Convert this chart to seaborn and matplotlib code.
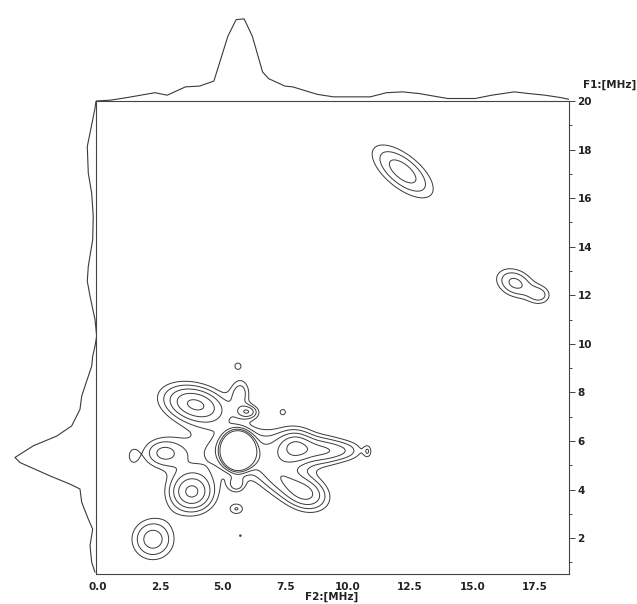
import numpy as np
import pandas as pd
import seaborn as sns
import matplotlib.pyplot as plt

sns.set_theme(style="white")
plt.rcParams['font.family'] = ['DejaVu Sans']

# peaks of the 2D map (MHz)
peak_x = [5.6, 5.9, 3.9, 5.6, 5.7, 6.0, 7.4, 1.4, 2.6, 7.9, 9.0, 10.0, 10.8,
          3.75, 5.55, 5.55, 5.7, 7.3, 8.4, 2.2, 12.2, 16.7, 17.7]
peak_y = [5.6, 5.6, 7.5, 9.1, 8.0, 7.2, 7.2, 5.37, 5.5, 5.75, 5.6, 5.6, 5.57,
          3.9, 4.2, 3.2, 2.1, 4.4, 3.8, 1.95, 17.1, 12.5, 12.0]
peak_amp = [30, 2.2, 3.8, 1.1, 1.7, 2.2, 1.1, 1.1, 2.0, 2.6, 2.1, 1.3, 1.1,
            3.8, 1.6, 1.5, 1.05, 2.0, 2.5, 2.5, 2.5, 2.3, 1.5]
peak_sx = [0.3, 1.7, 0.95, 0.2, 0.3, 0.3, 0.15, 0.18, 0.6, 0.5, 0.6, 0.55, 0.12,
           0.65, 0.25, 0.25, 0.12, 0.8, 0.65, 0.62, 1.1, 0.6, 0.35]
peak_sy = [0.36, 0.7, 0.55, 0.2, 0.45, 0.2, 0.15, 0.28, 0.45, 0.5, 0.42, 0.32, 0.2,
           0.6, 0.25, 0.2, 0.12, 0.5, 0.5, 0.62, 0.5, 0.42, 0.3]
peak_angle = [0, 0, -15, 0, 0, 0, 0, 0, 0, 0, 0, 0, 0,
              0, 0, 0, 0, -30, -20, 0, -40, -25, 0]
levels = [1.0, 1.5, 2.1, 2.8, 3.6]

# skyline projections (fraction of the top peak)
top_f2 = [-0.08, 0.49, 1.14, 2.28, 2.77, 3.5, 4.07, 4.64, 5.2, 5.53, 5.85, 6.18, 6.59,
          6.83, 7.48, 7.8, 8.78, 9.43, 10.25, 10.9, 11.55, 12.2, 12.85, 14.0, 15.1,
          15.77, 16.67, 17.24, 17.9, 18.55, 18.86]
top_int = [0, 0.01, 0.04, 0.10, 0.07, 0.17, 0.18, 0.24, 0.78, 0.98, 0.99, 0.78, 0.35,
           0.27, 0.18, 0.17, 0.08, 0.05, 0.05, 0.05, 0.10, 0.11, 0.09, 0.03, 0.03,
           0.07, 0.11, 0.09, 0.07, 0.04, 0.02]
left_f1 = [20.0, 19.7, 18.68, 18.13, 17.03, 16.2, 15.25, 14.29, 13.19, 12.58, 11.96,
           11.0, 10.32, 9.9, 9.49, 9.08, 8.54, 7.85, 7.3, 6.62, 6.2, 5.8, 5.32, 5.11,
           4.56, 4.22, 4.02, 3.47, 2.78, 2.37, 1.69, 1.0, 0.59]
left_int = [0, 0.012, 0.072, 0.105, 0.093, 0.052, 0.033, 0.04, 0.093, 0.105, 0.072,
            0.012, -0.008, 0.012, 0.04, 0.052, 0.105, 0.172, 0.193, 0.293, 0.473,
            0.755, 0.976, 0.916, 0.554, 0.313, 0.193, 0.172, 0.093, 0.04, 0.072,
            0.052, 0.012]

xlim = (-0.08, 18.86)
ylim = (0.52, 20.0)

# build the map from the peak table
gx = np.linspace(xlim[0], xlim[1], 500)
gy = np.linspace(ylim[0], ylim[1], 500)
X, Y = np.meshgrid(gx, gy)
Z = np.zeros_like(X)
for px, py, a, sx, sy, ang in zip(peak_x, peak_y, peak_amp, peak_sx, peak_sy, peak_angle):
    t = np.deg2rad(ang)
    dx, dy = X - px, Y - py
    u = dx * np.cos(t) + dy * np.sin(t)
    v = -dx * np.sin(t) + dy * np.cos(t)
    Z += a * np.exp(-(u**2 / (2 * sx**2) + v**2 / (2 * sy**2)))

W, H = 637, 604
fig = plt.figure(figsize=(W / 100, H / 100), dpi=100)
ax = fig.add_axes([96 / W, 1 - 574 / H, 473 / W, 473 / H])
ax_top = fig.add_axes([96 / W, 1 - 101 / H, 473 / W, 87 / H], sharex=ax)
ax_left = fig.add_axes([10 / W, 1 - 574 / H, 86 / W, 473 / H], sharey=ax)

line_col = '#3a3a3a'
txt_col = '#222222'
ax.contour(X, Y, Z, levels=levels, colors=line_col, linewidths=0.7)
ax.set_xlim(*xlim)
ax.set_ylim(*ylim)
for s in ax.spines.values():
    s.set_color('#444444')
    s.set_linewidth(0.8)
ax.set_xticks([0, 2.5, 5, 7.5, 10, 12.5, 15, 17.5])
ax.set_xticklabels(['0.0', '2.5', '5.0', '7.5', '10.0', '12.5', '15.0', '17.5'])
ax.set_xticks(np.arange(0, 18.9, 0.5), minor=True)
ax.set_yticks([2, 4, 6, 8, 10, 12, 14, 16, 18, 20])
ax.set_yticks(np.arange(1, 20.5, 1), minor=True)
ax.yaxis.tick_right()
ax.tick_params(which='both', direction='out', color='#444444', width=0.7,
               labelsize=7.5, pad=2)
ax.tick_params(which='major', length=4)
ax.tick_params(which='minor', length=2)
for lab in ax.get_xticklabels() + ax.get_yticklabels():
    lab.set_fontweight('bold')
    lab.set_color(txt_col)
fig.text(332 / W, 1 - 597 / H, 'F2:[MHz]', ha='center', va='center',
         fontsize=7.5, fontweight='bold', color=txt_col)
fig.text(636 / W, 1 - 85 / H, 'F1:[MHz]', ha='right', va='center',
         fontsize=7.5, fontweight='bold', color=txt_col)

top_df = pd.DataFrame({'f2': top_f2, 'intensity': top_int})
sns.lineplot(data=top_df, x='f2', y='intensity', ax=ax_top, color=line_col,
             linewidth=0.8, estimator=None, sort=False)
ax_top.set_ylim(0, 87 / 83)
ax_top.axis('off')

left_df = pd.DataFrame({'f1': left_f1, 'intensity': left_int})
sns.lineplot(data=left_df, x='intensity', y='f1', ax=ax_left, color=line_col,
             linewidth=0.8, estimator=None, sort=False)
ax_left.set_xlim(86 / 83, 0)
ax_left.axis('off')

fig.savefig('out.png', dpi=100)
